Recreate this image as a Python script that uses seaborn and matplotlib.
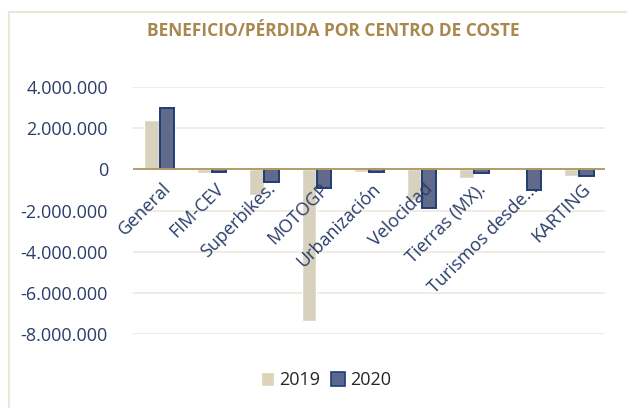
import numpy as np
import pandas as pd
import seaborn as sns
import matplotlib.pyplot as plt
from matplotlib.patches import Rectangle
from matplotlib.ticker import FuncFormatter

# datos
centros = ["General", "FIM-CEV", "Superbikes.", "MOTOGP", "Urbanización",
           "Velocidad", "Tierras (MX).", "Turismos desde...", "KARTING"]
v2019 = [2370000, -160000, -1260000, -7350000, -150000,
         -1500000, -400000, -20000, -320000]
v2020 = [2970000, -150000, -600000, -900000, -120000,
         -1900000, -200000, -1020000, -330000]

df = pd.DataFrame({
    "centro": centros * 2,
    "valor": v2019 + v2020,
    "año": ["2019"] * len(centros) + ["2020"] * len(centros),
})

sns.set_style("white")
plt.rcParams['font.family'] = ['Open Sans', 'DejaVu Sans']

azul_txt = "#2b3d6b"
fig = plt.figure(figsize=(6.27, 4.08), dpi=100)
ax = fig.add_axes([0.212, 0.181, 0.753, 0.606])

sns.barplot(data=df, x="centro", y="valor", hue="año", ax=ax,
            palette={"2019": "#ddd3b8", "2020": "#5a6890"},
            width=0.58, gap=0.05, legend=False)

# borde oscuro en las barras de 2020
for bar in ax.containers[1]:
    bar.set_edgecolor("#1f3d78")
    bar.set_linewidth(1.4)

ax.set_ylim(-8000000, 4000000)
ax.set_yticks(np.arange(-8000000, 4000001, 2000000))
ax.yaxis.set_major_formatter(FuncFormatter(lambda v, p: f"{v:,.0f}".replace(",", ".")))
ax.tick_params(axis="y", labelsize=13, labelcolor=azul_txt, length=0, pad=18)
ax.grid(axis="y", color="#efe9dc", linewidth=1.2)
ax.set_axisbelow(True)
ax.axhline(0, color="#b89a68", linewidth=1.4, zorder=3)
for s in ax.spines.values():
    s.set_visible(False)

# etiquetas de categoría junto al eje (como en Excel)
ax.set_xticks([])
ax.set_xlabel("")
ax.set_ylabel("")
for i, c in enumerate(centros):
    ax.text(i + 0.05, -500000, c, rotation=45, ha="right", va="top",
            rotation_mode="anchor", fontsize=13, color=azul_txt, zorder=5)

fig.text(0.532, 0.925, "BENEFICIO/PÉRDIDA POR CENTRO DE COSTE", ha="center",
         va="center", fontsize=12.5, fontweight="bold", color="#a8884f")

# leyenda
h = [Rectangle((0, 0), 1, 1, fc="#ddd3b8"),
     Rectangle((0, 0), 1, 1, fc="#5a6890", ec="#1f3d78", lw=1.2)]
fig.legend(h, ["2019", "2020"], loc="center", bbox_to_anchor=(0.52, 0.068),
           ncol=2, frameon=False, fontsize=13, handlelength=0.75,
           handleheight=0.75, handletextpad=0.3, columnspacing=0.6)

# marco del gráfico
fig.patches.append(Rectangle((0.014, -0.01), 1.0, 0.98, transform=fig.transFigure,
                             fill=False, ec="#ece6d8", lw=1.5))

fig.savefig("out.png", dpi=100)
